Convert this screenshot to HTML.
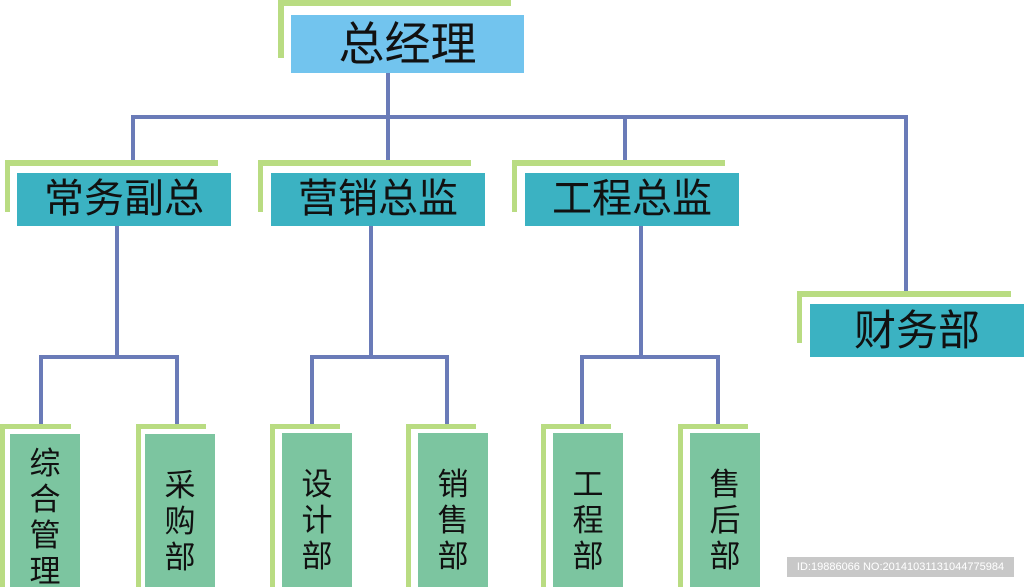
<!DOCTYPE html>
<html><head><meta charset="utf-8"><style>
body{margin:0;width:1024px;height:587px;background:#fff;position:relative;overflow:hidden;font-family:"Liberation Sans","Noto Sans CJK SC",sans-serif}
div{position:absolute;box-sizing:border-box}
.l{background:#6a7bb8}
.g{background:#b9dc82}
.b{color:#111;text-align:center}
.t2{background:#3bb2c2;font-size:40px;line-height:53px}
.t3{background:#7cc5a0;font-size:31px;line-height:36px;padding-top:12px;overflow:hidden}
</style></head><body>
<!-- connectors -->
<div class="l" style="left:386px;top:72px;width:4px;height:46px"></div>
<div class="l" style="left:131px;top:115px;width:777px;height:4px"></div>
<div class="l" style="left:131px;top:115px;width:4px;height:50px"></div>
<div class="l" style="left:386px;top:115px;width:4px;height:50px"></div>
<div class="l" style="left:623px;top:115px;width:4px;height:50px"></div>
<div class="l" style="left:904px;top:115px;width:4px;height:178px"></div>

<div class="l" style="left:115px;top:226px;width:4px;height:133px"></div>
<div class="l" style="left:39px;top:355px;width:140px;height:4px"></div>
<div class="l" style="left:39px;top:355px;width:4px;height:70px"></div>
<div class="l" style="left:175px;top:355px;width:4px;height:70px"></div>

<div class="l" style="left:369px;top:226px;width:4px;height:133px"></div>
<div class="l" style="left:310px;top:355px;width:139px;height:4px"></div>
<div class="l" style="left:310px;top:355px;width:4px;height:70px"></div>
<div class="l" style="left:445px;top:355px;width:4px;height:70px"></div>

<div class="l" style="left:639px;top:226px;width:4px;height:133px"></div>
<div class="l" style="left:580px;top:355px;width:140px;height:4px"></div>
<div class="l" style="left:580px;top:355px;width:4px;height:70px"></div>
<div class="l" style="left:716px;top:355px;width:4px;height:70px"></div>

<!-- top -->
<div class="g" style="left:278px;top:0;width:233px;height:6px"></div>
<div class="g" style="left:278px;top:0;width:6px;height:58px"></div>
<div class="b" style="left:291px;top:15px;width:233px;height:58px;background:#72c4ee;font-size:46px;line-height:58px">总经理</div>

<!-- level 2 -->
<div class="g" style="left:5px;top:160px;width:213px;height:6px"></div>
<div class="g" style="left:5px;top:160px;width:5px;height:52px"></div>
<div class="b t2" style="left:17px;top:173px;width:214px;height:53px">常务副总</div>
<div class="g" style="left:258px;top:160px;width:213px;height:6px"></div>
<div class="g" style="left:258px;top:160px;width:5px;height:52px"></div>
<div class="b t2" style="left:271px;top:173px;width:214px;height:53px">营销总监</div>
<div class="g" style="left:512px;top:160px;width:213px;height:6px"></div>
<div class="g" style="left:512px;top:160px;width:5px;height:52px"></div>
<div class="b t2" style="left:525px;top:173px;width:214px;height:53px">工程总监</div>
<div class="g" style="left:797px;top:291px;width:214px;height:6px"></div>
<div class="g" style="left:797px;top:291px;width:5px;height:52px"></div>
<div class="b t2" style="left:810px;top:304px;width:214px;height:53px;font-size:42px">财务部</div>

<!-- level 3 -->
<div class="g" style="left:0;top:424px;width:71px;height:5px"></div>
<div class="g" style="left:0;top:424px;width:5px;height:163px"></div>
<div class="b t3" style="left:10px;top:434px;width:70px;height:153px">综<br>合<br>管<br>理<br>部</div>
<div class="g" style="left:136px;top:424px;width:70px;height:5px"></div>
<div class="g" style="left:136px;top:424px;width:5px;height:163px"></div>
<div class="b t3" style="left:145px;top:434px;width:70px;height:153px;padding-top:34px">采<br>购<br>部</div>

<div class="g" style="left:270px;top:424px;width:70px;height:5px"></div>
<div class="g" style="left:270px;top:424px;width:5px;height:163px"></div>
<div class="b t3" style="left:282px;top:433px;width:70px;height:154px;padding-top:34px">设<br>计<br>部</div>
<div class="g" style="left:406px;top:424px;width:70px;height:5px"></div>
<div class="g" style="left:406px;top:424px;width:5px;height:163px"></div>
<div class="b t3" style="left:418px;top:433px;width:70px;height:154px;padding-top:34px">销<br>售<br>部</div>

<div class="g" style="left:541px;top:424px;width:70px;height:5px"></div>
<div class="g" style="left:541px;top:424px;width:5px;height:163px"></div>
<div class="b t3" style="left:553px;top:433px;width:70px;height:154px;padding-top:34px">工<br>程<br>部</div>
<div class="g" style="left:678px;top:424px;width:70px;height:5px"></div>
<div class="g" style="left:678px;top:424px;width:5px;height:163px"></div>
<div class="b t3" style="left:690px;top:433px;width:70px;height:154px;padding-top:34px">售<br>后<br>部</div>

<div style="left:787px;top:557px;width:227px;height:20px;background:#c8c8c8;color:#fff;font-size:11px;line-height:20px;text-align:center">ID:19886066 NO:20141031131044775984</div>
</body></html>
